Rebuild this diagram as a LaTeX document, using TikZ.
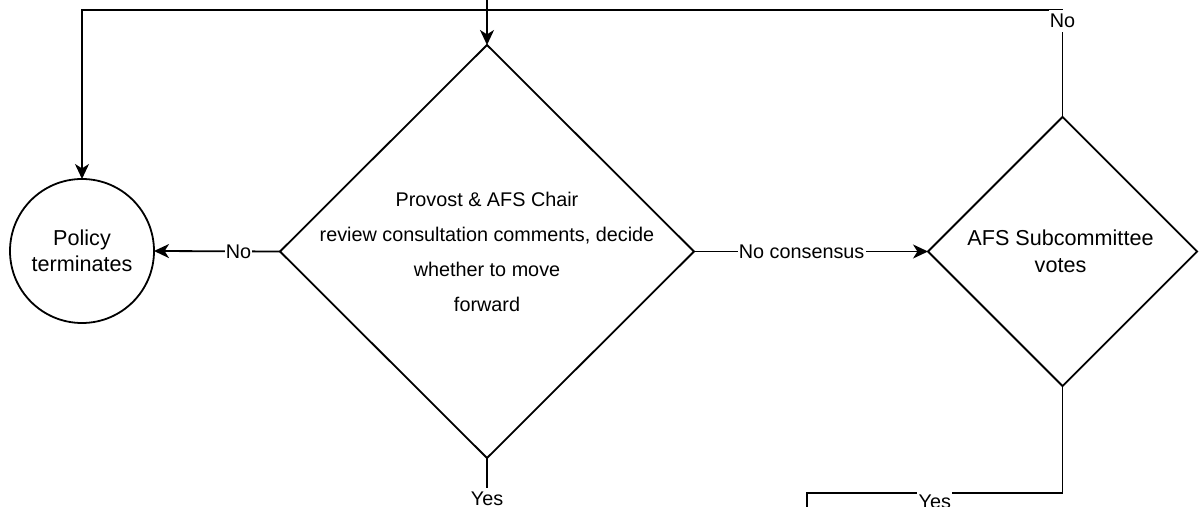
\documentclass[tikz,border=0pt]{standalone}
\usepackage{fontspec}
\setmainfont{Liberation Sans}
\usepackage{tikz}
\usetikzlibrary{calc,shapes.geometric,arrows.meta,positioning}

\begin{document}
\begin{tikzpicture}[x=0.5pt,y=-0.5pt,line width=0.9pt,
    decision/.style={draw,diamond,inner sep=0pt,outer sep=0pt},
    endcircle/.style={draw,circle,minimum size=72pt,inner sep=0pt,outer sep=0pt,
      align=center,font=\fontsize{10.8}{13}\selectfont},
    boxtext/.style={align=center,inner sep=0pt,font=\fontsize{10.8}{13.5}\selectfont},
    smalltext/.style={align=center,inner sep=0pt,font=\fontsize{9.9}{17.5}\selectfont},
    edgelabel/.style={fill=white,inner xsep=0.6pt,inner ysep=2pt,font=\fontsize{9.9}{12}\selectfont},
    arrow/.style={-{Stealth[length=7.5pt,width=7pt,inset=2.2pt]}}]
  \useasboundingbox (0,0) rectangle (1202,507);

  \node[endcircle] (terminates) at (82,251) {Policy\\terminates};

  \node[decision,minimum width=207pt,minimum height=206.5pt] (review) at (487,251.5) {};
  \node[smalltext] (reviewtext) at (review.center)
    {Provost \& AFS Chair\\review consultation comments, decide\\whether to move\\forward};

  \node[decision,minimum width=134.5pt,minimum height=134.5pt] (vote) at (1062.5,251.5) {};
  \node[boxtext] (votetext) at ($(vote.center)+(-2,0)$) {AFS Subcommittee\\votes};

  \coordinate (topline) at (0,10);
  \coordinate (fromabove) at (487,-20);
  \coordinate (belowreview) at (487,530);
  \coordinate (yesbend) at (807,493);
  \coordinate (belowyes) at (807,530);

  \draw[arrow] (fromabove) -- (review.north);
  \draw[arrow] (review.west) -- node[edgelabel,pos=0.33] (nolabel) {No} (terminates.east);
  \draw[arrow] (review.east) -- node[edgelabel,pos=0.46] (consensuslabel) {No consensus} (vote.west);
  \draw[arrow] (vote.north) -- node[edgelabel,pos=0.9] (notoplabel) {No} (vote.north |- topline)
    -| (terminates.north);
  \draw (review.south) -- node[edgelabel,pos=0.57] (yeslabel) {Yes} (belowreview);
  \draw (vote.south) |- node[edgelabel,pos=0.75,yshift=-4.5pt] (yesvotelabel) {Yes} (yesbend)
    -- (belowyes);
\end{tikzpicture}
\end{document}
